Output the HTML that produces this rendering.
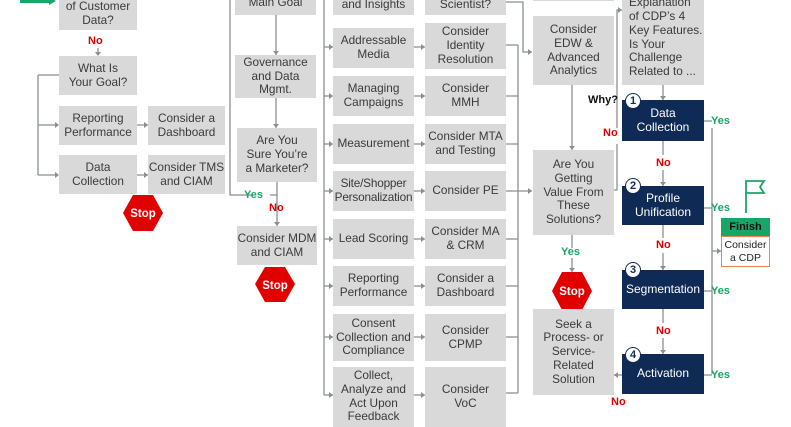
<!DOCTYPE html>
<html><head><meta charset="utf-8"><style>
body{margin:0;width:791px;height:420px;overflow:hidden;background:#fff;position:relative;font-family:"Liberation Sans",sans-serif}
.b{position:absolute;background:#d9d9d9;display:flex;align-items:center;justify-content:center;text-align:center;font-size:11.8px;line-height:13.8px;color:#3a3a3a;overflow:hidden}
.d{background:#0f2a55;color:#fff;font-size:12px}
.l{position:absolute;font-size:11px;font-weight:bold}
.y{color:#1aa568}.n{color:#e00000}
.c{position:absolute;width:14px;height:14px;border-radius:50%;background:#fff;border:1.5px solid #0f2a55;color:#0f2a55;font-weight:bold;font-size:11px;line-height:14px;text-align:center}
svg{position:absolute;left:0;top:0}
</style></head><body>
<svg width="791" height="420">
<g stroke="#8a8f94" stroke-width="1.3" fill="none">
<path d="M98 48V55M38 75H59M38 75V175M38 125H58M38 175H58M137 125H148M137 175H148"/>
<path d="M276 15V55M276 98V128M277 182V226M277 195H270M254 195H230V0"/>
<path d="M324 0V395M324 47H333M324 96H333M324 144H333M324 191H333M324 239H333M324 286H333M324 337H333M324 395H333"/>
<path d="M414 47H425M414 96H425M414 144H425M414 191H425M414 239H425M414 286H425M414 337H425M414 395H425"/>
<path d="M506 45H518M506 96H518M506 144H518M506 191H532M506 239H518M506 286H518M506 337H518M506 393H518M518 45V393"/>
<path d="M506 2H523V52H532"/>
<path d="M572 85V150M572 235V248M572 258V272"/>
<path d="M614 190H617V144M617 128V10H622"/>
<path d="M663 85V100M663 141V155M663 170V186M663 225V238M663 253V270M663 309V323M663 338V354"/>
<path d="M704 121H712M704 208H712M704 291H712M704 375H712M712 128V374M712 251H721"/>
<path d="M622 375H614"/>
</g>
<g fill="#8a8f94">
<path d="M95 52h6l-3 4zM55 122v6l4-3zM55 172v6l4-3zM144 122v6l4-3zM144 172v6l4-3z"/>
<path d="M273 51h6l-3 4zM273 124h6l-3 4zM274 222h6l-3 4z"/>
<path d="M329 44v6l4-3zM329 93v6l4-3zM329 141v6l4-3zM329 188v6l4-3zM329 236v6l4-3zM329 283v6l4-3zM329 334v6l4-3zM329 392v6l4-3z"/>
<path d="M421 44v6l4-3zM421 93v6l4-3zM421 141v6l4-3zM421 188v6l4-3zM421 236v6l4-3zM421 283v6l4-3zM421 334v6l4-3zM421 392v6l4-3z"/>
<path d="M528 49v6l4-3zM528 188v6l4-3zM569 146h6l-3 4zM569 268h6l-3 4z"/>
<path d="M618 7v6l4-3zM660 96h6l-3 4zM660 182h6l-3 4zM660 266h6l-3 4zM660 350h6l-3 4zM717 248v6l4-3zM618 372v6l-4-3z"/>
</g>
<path d="M20 1H50" stroke="#1aa568" stroke-width="4"/><path d="M49 -3L56 1L49 5z" fill="#1aa568"/>
<path d="M133 195h20l10 18-10 18h-20l-10-18z" fill="#e00000"/>
<path d="M265 267h20l10 17-10 18h-20l-10-18z" fill="#e00000"/>
<path d="M562 272h20l10 19-10 19h-20l-10-19z" fill="#e00000"/>
<path d="M746 213V181H764L760 187L764 193H746" stroke="#1aa568" stroke-width="1.8" fill="none"/>
<g fill="#fff" font-weight="bold" font-size="11.5" text-anchor="middle" font-family="Liberation Sans,sans-serif">
<text x="143" y="217">Stop</text><text x="275" y="289">Stop</text><text x="572" y="295">Stop</text></g>
</svg>

<div class="b" style="left:59px;top:-15px;width:78px;height:45px;align-items:flex-end;padding-bottom:2px;box-sizing:border-box">of Customer<br>Data?</div>
<div class="l n" style="left:88px;top:35px">No</div>
<div class="b" style="left:59px;top:56px;width:78px;height:39px">What Is<br>Your Goal?</div>
<div class="b" style="left:59px;top:106px;width:78px;height:39px">Reporting<br>Performance</div>
<div class="b" style="left:148px;top:106px;width:77px;height:39px">Consider a<br>Dashboard</div>
<div class="b" style="left:59px;top:155px;width:78px;height:39px">Data<br>Collection</div>
<div class="b" style="left:148px;top:155px;width:77px;height:39px">Consider TMS<br>and CIAM</div>

<div class="b" style="left:235px;top:-30px;width:81px;height:45px;align-items:flex-end;padding-bottom:6px;box-sizing:border-box;line-height:13px">Main Goal</div>
<div class="b" style="left:235px;top:55px;width:81px;height:43px">Governance<br>and Data<br>Mgmt.</div>
<div class="b" style="left:237px;top:128px;width:80px;height:54px">Are You<br>Sure You’re<br>a Marketer?</div>
<div class="l y" style="left:244px;top:189px">Yes</div>
<div class="l n" style="left:269px;top:202px">No</div>
<div class="b" style="left:237px;top:226px;width:80px;height:39px">Consider MDM<br>and CIAM</div>

<div class="b" style="left:333px;top:-25px;width:81px;height:40px;align-items:flex-end;padding-bottom:3px;box-sizing:border-box">and Insights</div>
<div class="b" style="left:333px;top:28px;width:81px;height:40px">Addressable<br>Media</div>
<div class="b" style="left:333px;top:76px;width:81px;height:40px">Managing<br>Campaigns</div>
<div class="b" style="left:333px;top:124px;width:81px;height:40px">Measurement</div>
<div class="b" style="left:333px;top:171px;width:81px;height:40px;letter-spacing:-0.2px">Site/Shopper<br>Personalization</div>
<div class="b" style="left:333px;top:219px;width:81px;height:40px">Lead Scoring</div>
<div class="b" style="left:333px;top:266px;width:81px;height:40px">Reporting<br>Performance</div>
<div class="b" style="left:333px;top:314px;width:81px;height:47px">Consent<br>Collection and<br>Compliance</div>
<div class="b" style="left:333px;top:367px;width:81px;height:60px;align-items:flex-start;padding-top:2px;box-sizing:border-box">Collect,<br>Analyze and<br>Act Upon<br>Feedback</div>

<div class="b" style="left:425px;top:-25px;width:81px;height:40px;align-items:flex-end;padding-bottom:3px;box-sizing:border-box">Scientist?</div>
<div class="b" style="left:425px;top:23px;width:81px;height:46px">Consider<br>Identity<br>Resolution</div>
<div class="b" style="left:425px;top:76px;width:81px;height:40px">Consider<br>MMH</div>
<div class="b" style="left:425px;top:124px;width:81px;height:40px">Consider MTA<br>and Testing</div>
<div class="b" style="left:425px;top:171px;width:81px;height:40px">Consider PE</div>
<div class="b" style="left:425px;top:219px;width:81px;height:40px">Consider MA<br>&amp; CRM</div>
<div class="b" style="left:425px;top:266px;width:81px;height:40px">Consider a<br>Dashboard</div>
<div class="b" style="left:425px;top:314px;width:81px;height:47px">Consider<br>CPMP</div>
<div class="b" style="left:425px;top:367px;width:81px;height:60px">Consider<br>VoC</div>

<div class="b" style="left:533px;top:-30px;width:81px;height:31px"></div>
<div class="b" style="left:533px;top:16px;width:81px;height:69px">Consider<br>EDW &amp;<br>Advanced<br>Analytics</div>
<div class="b" style="left:533px;top:150px;width:81px;height:85px">Are You<br>Getting<br>Value From<br>These<br>Solutions?</div>
<div class="l y" style="left:561px;top:246px">Yes</div>
<div class="b" style="left:533px;top:309px;width:81px;height:86px">Seek a<br>Process- or<br>Service-<br>Related<br>Solution</div>

<div class="b" style="left:622px;top:-40px;width:82px;height:125px;justify-content:flex-start;align-items:flex-end;text-align:left;padding:0 0 6px 7px;box-sizing:border-box;line-height:13.8px">Explanation<br>of CDP’s 4<br>Key Features.<br>Is Your<br>Challenge<br>Related to ...</div>
<div class="l" style="left:588px;top:94px;color:#111">Why?</div>
<div class="l n" style="left:603px;top:127px">No</div>
<div class="b d" style="left:622px;top:100px;width:82px;height:41px">Data<br>Collection</div>
<div class="b d" style="left:622px;top:186px;width:82px;height:39px">Profile<br>Unification</div>
<div class="b d" style="left:622px;top:270px;width:82px;height:39px">Segmentation</div>
<div class="b d" style="left:622px;top:354px;width:82px;height:40px">Activation</div>
<div class="c" style="left:625px;top:93px">1</div>
<div class="c" style="left:625px;top:178px">2</div>
<div class="c" style="left:625px;top:262px">3</div>
<div class="c" style="left:625px;top:347px">4</div>
<div class="l n" style="left:656px;top:157px">No</div>
<div class="l n" style="left:656px;top:239px">No</div>
<div class="l n" style="left:656px;top:325px">No</div>
<div class="l n" style="left:611px;top:396px">No</div>
<div class="l y" style="left:711px;top:115px">Yes</div>
<div class="l y" style="left:711px;top:202px">Yes</div>
<div class="l y" style="left:711px;top:285px">Yes</div>
<div class="l y" style="left:711px;top:369px">Yes</div>
<div style="position:absolute;left:721px;top:218px;width:49px;height:18px;background:#1aa568;color:#111;font-weight:bold;font-size:11px;text-align:center;line-height:18px">Finish</div>
<div style="position:absolute;left:721px;top:236px;width:49px;height:31px;border:1.3px solid #f08050;box-sizing:border-box;font-size:10.5px;line-height:13px;text-align:center;color:#222;padding-top:2px">Consider<br>a CDP</div>
</body></html>
